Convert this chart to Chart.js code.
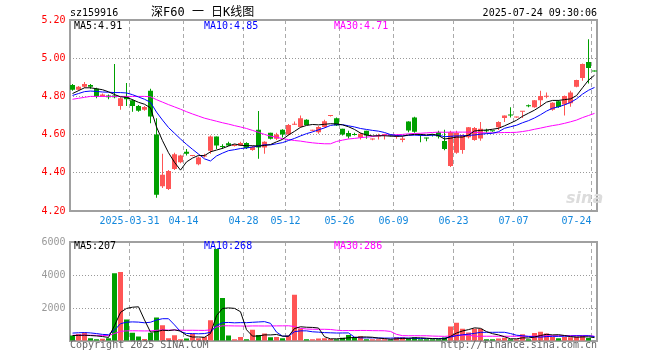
<!DOCTYPE html>
<html>
<head>
<meta charset="utf-8">
<script src="https://cdn.jsdelivr.net/npm/chart.js@4.4.1/dist/chart.umd.min.js"></script>
<style>
  html, body { margin: 0; padding: 0; background: #fff; }
  #wrap { position: relative; width: 660px; height: 360px; overflow: hidden;
          font-family: 'DejaVu Sans Mono', monospace; font-size: 10px; }
  canvas { position: absolute; left: 0; }
  .t { position: absolute; white-space: pre; line-height: 12px; }
</style>
</head>
<body>
<div id="wrap">
  <canvas id="kline" width="660" height="232" style="top:0"></canvas>
  <canvas id="vol" width="660" height="128" style="top:232px"></canvas>

  <div class="t" style="left:70px; top:7px; color:#000">sz159916</div>
  <div class="t" style="left:151px; top:5px; font-size:12px; line-height:14px; font-family:'DejaVu Sans Mono','Noto Sans CJK SC'; color:#000">深F60 一 日K线图</div>
  <div class="t" style="right:63px; top:7px; color:#000">2025-07-24 09:30:06</div>

  <div class="t" id="ma5Label" style="left:74px; top:20px; color:#000"></div>
  <div class="t" id="ma10Label" style="left:204px; top:20px; color:#0000ff"></div>
  <div class="t" id="ma30Label" style="left:334px; top:20px; color:#ff00ff"></div>

  <div class="t" id="vma5Label" style="left:74px; top:240px; color:#000"></div>
  <div class="t" id="vma10Label" style="left:204px; top:240px; color:#0000ff"></div>
  <div class="t" id="vma30Label" style="left:334px; top:240px; color:#ff00ff"></div>

  <div class="t" style="left:566px; top:188px; font:italic bold 16px 'DejaVu Sans'; color:#dcdcdc">sina</div>

  <div class="t" style="left:70px; top:339px; color:#666">Copyright 2025 SINA.COM</div>
  <div class="t" style="right:63px; top:339px; color:#666">http://finance.sina.com.cn</div>
</div>

<script>
// 日K: 2025-03-17 .. 2025-07-24 (88 根)
const dates = [
  '2025-03-17','2025-03-18','2025-03-19','2025-03-20','2025-03-21','2025-03-24','2025-03-25','2025-03-26','2025-03-27','2025-03-28',
  '2025-03-31','2025-04-01','2025-04-02','2025-04-03','2025-04-07','2025-04-08','2025-04-09','2025-04-10','2025-04-11','2025-04-14',
  '2025-04-15','2025-04-16','2025-04-17','2025-04-18','2025-04-21','2025-04-22','2025-04-23','2025-04-24','2025-04-25','2025-04-28',
  '2025-04-29','2025-04-30','2025-05-06','2025-05-07','2025-05-08','2025-05-09','2025-05-12','2025-05-13','2025-05-14','2025-05-15',
  '2025-05-16','2025-05-20','2025-05-21','2025-05-22','2025-05-23','2025-05-26','2025-05-27','2025-05-28','2025-05-29','2025-05-30',
  '2025-06-03','2025-06-04','2025-06-05','2025-06-06','2025-06-09','2025-06-10','2025-06-11','2025-06-12','2025-06-13','2025-06-16',
  '2025-06-17','2025-06-18','2025-06-19','2025-06-20','2025-06-23','2025-06-24','2025-06-25','2025-06-26','2025-06-27','2025-06-30',
  '2025-07-01','2025-07-02','2025-07-03','2025-07-04','2025-07-07','2025-07-08','2025-07-09','2025-07-10','2025-07-11','2025-07-14',
  '2025-07-15','2025-07-16','2025-07-17','2025-07-18','2025-07-21','2025-07-22','2025-07-23','2025-07-24'
]

const open = [
  4.86, 4.835, 4.85, 4.86, 4.84, 4.80, 4.805, 4.805, 4.75, 4.80,
  4.78, 4.75, 4.73, 4.83, 4.60, 4.33, 4.315, 4.42, 4.455, 4.51,
  4.488, 4.445, 4.485, 4.515, 4.59, 4.54, 4.555, 4.54, 4.543, 4.556,
  4.52, 4.626, 4.532, 4.61, 4.578, 4.626, 4.60, 4.652, 4.64, 4.678,
  4.62, 4.612, 4.64, 4.698, 4.685, 4.63, 4.608, 4.602, 4.585, 4.62,
  4.575, 4.59, 4.598, 4.598, 4.59, 4.572, 4.668, 4.69, 4.60, 4.583,
  4.598, 4.612, 4.567, 4.435, 4.505, 4.52, 4.586, 4.572, 4.579, 4.622,
  4.618, 4.638, 4.687, 4.702, 4.689, 4.72, 4.75, 4.743, 4.78, 4.798,
  4.73, 4.774, 4.757, 4.764, 4.851, 4.896, 4.98, 4.932
]
const high = [
  4.865, 4.855, 4.875, 4.865, 4.845, 4.815, 4.81, 4.97, 4.795, 4.87,
  4.785, 4.755, 4.75, 4.84, 4.685, 4.50, 4.415, 4.505, 4.495, 4.525,
  4.492, 4.485, 4.50, 4.595, 4.59, 4.55, 4.563, 4.55, 4.562, 4.56,
  4.54, 4.723, 4.565, 4.61, 4.61, 4.628, 4.655, 4.668, 4.70, 4.68,
  4.625, 4.645, 4.678, 4.703, 4.69, 4.63, 4.62, 4.61, 4.61, 4.62,
  4.58, 4.605, 4.605, 4.60, 4.60, 4.59, 4.67, 4.693, 4.60, 4.583,
  4.60, 4.62, 4.626, 4.62, 4.62, 4.60, 4.64, 4.64, 4.666, 4.63,
  4.62, 4.67, 4.70, 4.743, 4.692, 4.722, 4.757, 4.781, 4.83, 4.82,
  4.77, 4.78, 4.805, 4.83, 4.887, 4.972, 5.099, 4.933
]
const low = [
  4.83, 4.83, 4.845, 4.84, 4.79, 4.80, 4.785, 4.79, 4.73, 4.75,
  4.72, 4.72, 4.725, 4.66, 4.27, 4.32, 4.31, 4.415, 4.45, 4.49,
  4.486, 4.44, 4.48, 4.50, 4.525, 4.525, 4.54, 4.538, 4.54, 4.525,
  4.515, 4.473, 4.50, 4.575, 4.572, 4.585, 4.595, 4.65, 4.636, 4.65,
  4.618, 4.605, 4.636, 4.695, 4.645, 4.595, 4.58, 4.595, 4.575, 4.578,
  4.57, 4.575, 4.575, 4.59, 4.578, 4.56, 4.612, 4.61, 4.56, 4.565,
  4.59, 4.58, 4.518, 4.43, 4.50, 4.50, 4.58, 4.568, 4.568, 4.61,
  4.615, 4.624, 4.666, 4.69, 4.688, 4.687, 4.743, 4.74, 4.746, 4.79,
  4.725, 4.74, 4.70, 4.746, 4.848, 4.882, 4.868, 4.93
]
const close = [
  4.835, 4.85, 4.865, 4.85, 4.80, 4.81, 4.795, 4.795, 4.79, 4.785,
  4.75, 4.725, 4.745, 4.695, 4.285, 4.39, 4.41, 4.497, 4.49, 4.50,
  4.49, 4.48, 4.49, 4.59, 4.543, 4.535, 4.543, 4.545, 4.556, 4.53,
  4.535, 4.532, 4.563, 4.578, 4.60, 4.60, 4.65, 4.657, 4.685, 4.65,
  4.623, 4.64, 4.67, 4.70, 4.647, 4.60, 4.59, 4.598, 4.605, 4.595,
  4.578, 4.592, 4.60, 4.594, 4.593, 4.58, 4.622, 4.615, 4.595, 4.58,
  4.596, 4.59, 4.525, 4.612, 4.61, 4.598, 4.638, 4.635, 4.631, 4.618,
  4.617, 4.666, 4.70, 4.70, 4.69, 4.722, 4.748, 4.78, 4.802, 4.80,
  4.767, 4.745, 4.802, 4.82, 4.886, 4.97, 4.949, 4.931
]

// 均线
const ma5 = [
  4.815, 4.83, 4.845, 4.845, 4.84, 4.835, 4.824, 4.81, 4.798, 4.795,
  4.783, 4.769, 4.759, 4.74, 4.64, 4.568, 4.505, 4.455, 4.414, 4.457,
  4.477, 4.491, 4.49, 4.51, 4.519, 4.528, 4.54, 4.551, 4.544, 4.542,
  4.542, 4.54, 4.543, 4.548, 4.562, 4.575, 4.598, 4.617, 4.638, 4.648,
  4.653, 4.651, 4.654, 4.657, 4.656, 4.651, 4.641, 4.627, 4.608, 4.598,
  4.593, 4.594, 4.594, 4.592, 4.591, 4.592, 4.598, 4.601, 4.601, 4.598,
  4.602, 4.595, 4.577, 4.581, 4.587, 4.587, 4.597, 4.619, 4.622, 4.624,
  4.628, 4.633, 4.646, 4.66, 4.675, 4.696, 4.712, 4.728, 4.748, 4.77,
  4.779, 4.779, 4.783, 4.787, 4.804, 4.845, 4.885, 4.911
]
const ma10 = [
  4.805, 4.815, 4.825, 4.828, 4.826, 4.823, 4.822, 4.82, 4.82, 4.818,
  4.809, 4.797, 4.785, 4.769, 4.718, 4.676, 4.637, 4.607, 4.577, 4.549,
  4.523, 4.498, 4.473, 4.462, 4.488, 4.503, 4.516, 4.521, 4.527, 4.53,
  4.535, 4.54, 4.547, 4.546, 4.552, 4.558, 4.569, 4.58, 4.593, 4.605,
  4.614, 4.625, 4.635, 4.648, 4.652, 4.652, 4.646, 4.64, 4.632, 4.627,
  4.622, 4.618, 4.611, 4.60, 4.595, 4.593, 4.596, 4.597, 4.596, 4.595,
  4.597, 4.597, 4.589, 4.591, 4.593, 4.594, 4.596, 4.598, 4.602, 4.605,
  4.607, 4.615, 4.633, 4.641, 4.649, 4.662, 4.673, 4.687, 4.704, 4.723,
  4.738, 4.745, 4.756, 4.768, 4.787, 4.812, 4.832, 4.847
]
const ma30 = [
  4.785, 4.79, 4.795, 4.80, 4.80, 4.80, 4.80, 4.80, 4.80, 4.80,
  4.80, 4.80, 4.80, 4.798, 4.783, 4.77, 4.757, 4.745, 4.733, 4.72,
  4.708, 4.697, 4.686, 4.678, 4.67, 4.662, 4.655, 4.647, 4.64, 4.632,
  4.622, 4.612, 4.601, 4.592, 4.586, 4.579, 4.574, 4.569, 4.566, 4.561,
  4.557, 4.554, 4.552, 4.552, 4.564, 4.571, 4.577, 4.58, 4.584, 4.587,
  4.59, 4.594, 4.598, 4.598, 4.599, 4.601, 4.604, 4.606, 4.607, 4.609,
  4.611, 4.613, 4.612, 4.613, 4.613, 4.613, 4.613, 4.612, 4.61, 4.609,
  4.609, 4.61, 4.611, 4.611, 4.612, 4.616, 4.621, 4.628, 4.634, 4.641,
  4.647, 4.652, 4.659, 4.667, 4.676, 4.689, 4.70, 4.711
]

// 成交量 (手)
const volume = [
  330, 420, 520, 170, 100, 130, 160, 4100, 4180, 1300,
  500, 280, 120, 500, 1420, 950, 160, 350, 110, 150,
  440, 170, 250, 1260, 5570, 2610, 340, 110, 240, 110,
  680, 370, 450, 230, 250, 170, 330, 2800, 760, 110,
  110, 150, 170, 120, 110, 200, 370, 250, 290, 110,
  110, 110, 110, 90, 230, 230, 170, 230, 110, 110,
  110, 110, 210, 880, 1100, 740, 520, 740, 740, 110,
  110, 150, 190, 110, 100, 410, 100, 490, 560, 460,
  240, 160, 250, 230, 270, 330, 180, 25
]
const volMa5 = [
  330, 340, 350, 330, 308, 268, 216, 932, 1734, 1974,
  2048, 2072, 1276, 540, 564, 654, 630, 676, 598, 344,
  242, 244, 224, 454, 1538, 1972, 2006, 1978, 1774, 682,
  296, 302, 370, 368, 396, 294, 286, 756, 862, 834,
  822, 786, 260, 132, 132, 150, 194, 210, 244, 244,
  226, 174, 146, 106, 130, 154, 166, 190, 194, 170,
  146, 134, 130, 284, 482, 608, 690, 796, 768, 570,
  444, 370, 260, 134, 132, 192, 182, 242, 332, 404,
  370, 382, 334, 268, 230, 248, 252, 207
]
const volMa10 = [
  480, 500, 510, 490, 450, 400, 380, 660, 1050, 1141,
  1158, 1144, 1104, 1137, 1269, 1351, 1351, 976, 569, 454,
  448, 437, 450, 526, 941, 1107, 1125, 1101, 1114, 1110,
  1134, 1154, 1174, 1071, 539, 295, 294, 563, 615, 615,
  558, 536, 508, 497, 483, 486, 490, 235, 188, 188,
  188, 184, 178, 175, 187, 190, 170, 168, 150, 150,
  150, 150, 160, 239, 326, 377, 412, 463, 526, 526,
  526, 530, 528, 451, 351, 318, 276, 251, 233, 268,
  281, 282, 288, 300, 317, 309, 317, 268
]
const volMa30 = [
  348, 350, 357, 351, 343, 336, 329, 454, 582, 614,
  619, 616, 609, 614, 649, 669, 663, 663, 655, 648,
  651, 645, 642, 672, 846, 922, 921, 913, 910, 902,
  913, 912, 909, 911, 916, 918, 923, 880, 766, 726,
  713, 709, 711, 698, 654, 629, 636, 633, 639, 638,
  627, 625, 620, 581, 403, 324, 318, 322, 318, 318,
  299, 290, 282, 304, 332, 351, 357, 289, 288, 288,
  288, 288, 289, 288, 288, 295, 286, 294, 303, 315,
  319, 321, 325, 330, 331, 335, 335, 286
]

// 坐标轴
const tickIdx = [10, 19, 29, 36, 45, 54, 64, 74, 87]
const priceMin = 4.2
const priceMax = 5.2
const priceStep = 0.2
const volMax = 6000
const volStep = 2000

const UP = '#ff5555'
const DOWN = '#00a000'
const GRID = '#aaaaaa'
const NONE = 'rgba(0,0,0,0)'

Chart.defaults.font.family = "'DejaVu Sans Mono', monospace"
Chart.defaults.font.size = 10

const candleColor = close.map((c, i) => (c >= open[i] ? UP : DOWN))
const wickData = low.map((l, i) => [l, high[i]])
const bodyData = open.map((o, i) => [Math.min(o, close[i]), Math.max(o, close[i])])

const last = (a) => a[a.length - 1]
document.getElementById('ma5Label').textContent = `MA5:${last(ma5).toFixed(2)}`
document.getElementById('ma10Label').textContent = `MA10:${last(ma10).toFixed(2)}`
document.getElementById('ma30Label').textContent = `MA30:${last(ma30).toFixed(2)}`
document.getElementById('vma5Label').textContent = `MA5:${Math.round(last(volMa5))}`
document.getElementById('vma10Label').textContent = `MA10:${Math.round(last(volMa10))}`
document.getElementById('vma30Label').textContent = `MA30:${Math.round(last(volMa30))}`

// 灰色外框
const frame = {
  id: 'frame',
  beforeDatasetsDraw(chart) {
    const { ctx, chartArea: a } = chart
    const x = Math.round(a.left)
    const y = Math.round(a.top)
    ctx.save()
    ctx.strokeStyle = '#a0a0a0'
    ctx.lineWidth = 2
    ctx.strokeRect(x, y, Math.floor(a.right) - x, Math.round(a.bottom) - y)
    ctx.restore()
  }
}

const maLine = (data, color) => ({
  type: 'line',
  data,
  borderColor: color,
  borderWidth: 1,
  pointRadius: 0,
  fill: false,
  tension: 0,
  order: 0
})

const xGrid = {
  offset: true,
  drawTicks: false,
  lineWidth: 1,
  color: (ctx) => (tickIdx.includes(ctx.index) ? GRID : NONE)
}

const xLabel = (v, i) => {
  if (!tickIdx.includes(i)) return ''
  if (i === tickIdx[0]) return dates[i]
  const s = dates[i].slice(5)
  return i === dates.length - 1 ? s + '     ' : s
}

new Chart(document.getElementById('kline'), {
  type: 'bar',
  data: {
    labels: dates,
    datasets: [
      maLine(ma5, '#000000'),
      maLine(ma10, '#0000ff'),
      maLine(ma30, '#ff00ff'),
      {
        data: bodyData,
        backgroundColor: candleColor,
        barThickness: 5,
        minBarLength: 1,
        grouped: false,
        inflateAmount: 0,
        order: 1
      },
      {
        data: wickData,
        backgroundColor: candleColor,
        barThickness: 1,
        minBarLength: 1,
        grouped: false,
        inflateAmount: 0,
        order: 2
      }
    ]
  },
  options: {
    responsive: false,
    animation: false,
    events: [],
    layout: { padding: { top: 20, right: 62.5, left: 0, bottom: 0 } },
    scales: {
      x: {
        offset: true,
        grid: xGrid,
        border: { display: false, dash: [4, 3] },
        ticks: {
          autoSkip: false,
          maxRotation: 0,
          minRotation: 0,
          padding: 4,
          labelOffset: -3,
          color: '#1488dd',
          callback: xLabel
        },
        afterFit: (s) => { s.height = 21 }
      },
      y: {
        min: priceMin,
        max: priceMax,
        grid: {
          drawTicks: false,
          color: (ctx) => (ctx.tick && ctx.tick.value > priceMin + 0.01 && ctx.tick.value < priceMax - 0.01 ? '#999999' : NONE)
        },
        border: { display: false, dash: [1, 2] },
        ticks: {
          stepSize: priceStep,
          padding: 4,
          color: '#ff0000',
          callback: (v) => Number(v).toFixed(2)
        },
        afterFit: (s) => { s.width = 69.5 }
      }
    },
    plugins: { legend: { display: false }, tooltip: { enabled: false } }
  },
  plugins: [frame]
})

new Chart(document.getElementById('vol'), {
  type: 'bar',
  data: {
    labels: dates,
    datasets: [
      maLine(volMa5, '#000000'),
      maLine(volMa10, '#0000ff'),
      maLine(volMa30, '#ff00ff'),
      {
        data: volume,
        backgroundColor: candleColor,
        barThickness: 5,
        grouped: false,
        inflateAmount: 0,
        order: 1
      }
    ]
  },
  options: {
    responsive: false,
    animation: false,
    events: [],
    layout: { padding: { top: 8, right: 62.5, left: 0, bottom: 0 } },
    scales: {
      x: {
        offset: true,
        grid: xGrid,
        border: { display: false, dash: [4, 3] },
        ticks: { display: false, autoSkip: false, maxRotation: 0, minRotation: 0 },
        afterFit: (s) => { s.height = 19 }
      },
      y: {
        min: 0,
        max: volMax,
        grid: {
          drawTicks: false,
          color: (ctx) => (ctx.tick && ctx.tick.value > 0 && ctx.tick.value < volMax ? '#999999' : NONE)
        },
        border: { display: false, dash: [1, 2] },
        ticks: {
          stepSize: volStep,
          padding: 4,
          color: '#999999',
          callback: (v) => (v === 0 ? '' : String(v))
        },
        afterFit: (s) => { s.width = 69.5 }
      }
    },
    plugins: { legend: { display: false }, tooltip: { enabled: false } }
  },
  plugins: [frame]
})
</script>
</body>
</html>
